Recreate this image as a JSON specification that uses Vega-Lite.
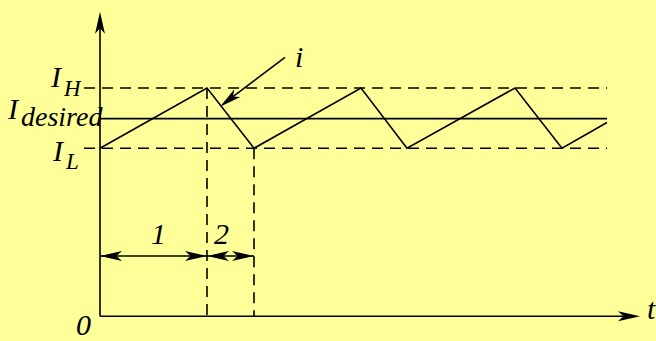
{
  "$schema": "https://vega.github.io/schema/vega-lite/v6.json",
  "width": 656,
  "height": 341,
  "autosize": {"type": "fit", "contains": "padding"},
  "padding": 0,
  "background": "#FFFF99",
  "config": {"view": {"stroke": null}},
  "datasets": {
    "solid": [
      {"t": 0, "v": 0, "t2": 0, "v2": 30.0},
      {"t": 0, "v": 0, "t2": 53.0, "v2": 0},
      {"t": 0, "v": 20, "t2": 50.7, "v2": 20},
      {"t": 0, "v": 6.1, "t2": 15.4, "v2": 6.1},
      {"t": 18.5, "v": 26.2, "t2": 12.6, "v2": 21.7}
    ],
    "dashed": [
      {"t": -1.6, "v": 23.1, "t2": 50.7, "v2": 23.1},
      {"t": -1.6, "v": 17.0, "t2": 50.7, "v2": 17.0},
      {"t": 10.7, "v": 23.1, "t2": 10.7, "v2": 0},
      {"t": 15.4, "v": 17.0, "t2": 15.4, "v2": 0}
    ],
    "current": [
      {"t": 0, "v": 17.0},
      {"t": 10.7, "v": 23.1},
      {"t": 15.4, "v": 17.0},
      {"t": 26.1, "v": 23.1},
      {"t": 30.7, "v": 17.0},
      {"t": 41.5, "v": 23.1},
      {"t": 46.2, "v": 17.0},
      {"t": 50.7, "v": 19.6}
    ],
    "headsUp": [{"t": 0, "v": 30.8}],
    "headsRight": [{"t": 54.0, "v": 0}, {"t": 10.7, "v": 6.1}, {"t": 15.4, "v": 6.1}],
    "headsLeft": [{"t": 0, "v": 6.1}, {"t": 10.7, "v": 6.1}],
    "headsDownLeft": [{"t": 12.0, "v": 21.2}],
    "bigtext": [
      {"t": -4.9, "v": 23.2, "label": "I"},
      {"t": -9.2, "v": 20.0, "label": "I"},
      {"t": -4.7, "v": 15.7, "label": "I"},
      {"t": -2.4, "v": -1.9, "label": "0"},
      {"t": 5.1, "v": 7.3, "label": "1"},
      {"t": 11.4, "v": 7.3, "label": "2"},
      {"t": 19.5, "v": 25.2, "label": "i"},
      {"t": 54.7, "v": -0.3, "label": "t"}
    ],
    "subtext": [
      {"t": -3.6, "v": 22.3, "label": "H"},
      {"t": -3.4, "v": 14.9, "label": "L"}
    ],
    "desiredtext": [
      {"t": -7.9, "v": 19.3, "label": "desired"}
    ]
  },
  "encoding": {
    "x": {"field": "t", "type": "quantitative", "scale": {"domain": [-10, 55.6], "nice": false, "zero": false}, "axis": null},
    "y": {"field": "v", "type": "quantitative", "scale": {"domain": [-2.1, 32], "nice": false, "zero": false}, "axis": null}
  },
  "layer": [
    {
      "data": {"name": "dashed"},
      "mark": {"type": "rule", "color": "black", "strokeWidth": 1.6, "strokeDash": [11, 7]},
      "encoding": {"x2": {"field": "t2"}, "y2": {"field": "v2"}}
    },
    {
      "data": {"name": "solid"},
      "mark": {"type": "rule", "color": "black", "strokeWidth": 1.6},
      "encoding": {"x2": {"field": "t2"}, "y2": {"field": "v2"}}
    },
    {
      "data": {"name": "current"},
      "mark": {"type": "line", "color": "black", "strokeWidth": 1.6},
      "encoding": {"order": {"field": "t", "type": "quantitative"}}
    },
    {
      "data": {"name": "headsUp"},
      "mark": {"type": "point", "filled": true, "color": "black", "opacity": 1, "size": 484, "angle": 0, "shape": "M0,0 L0.45,2 L0,1.5 L-0.45,2 Z", "strokeWidth": 0}
    },
    {
      "data": {"name": "headsRight"},
      "mark": {"type": "point", "filled": true, "color": "black", "opacity": 1, "size": 484, "angle": 90, "shape": "M0,0 L0.45,2 L0,1.5 L-0.45,2 Z", "strokeWidth": 0}
    },
    {
      "data": {"name": "headsLeft"},
      "mark": {"type": "point", "filled": true, "color": "black", "opacity": 1, "size": 484, "angle": 270, "shape": "M0,0 L0.45,2 L0,1.5 L-0.45,2 Z", "strokeWidth": 0}
    },
    {
      "data": {"name": "headsDownLeft"},
      "mark": {"type": "point", "filled": true, "color": "black", "opacity": 1, "size": 484, "angle": 232, "shape": "M0,0 L0.45,2 L0,1.5 L-0.45,2 Z", "strokeWidth": 0}
    },
    {
      "data": {"name": "bigtext"},
      "mark": {"type": "text", "font": "Liberation Serif", "fontStyle": "italic", "fontSize": 30, "align": "left", "baseline": "alphabetic", "color": "black"},
      "encoding": {"text": {"field": "label"}}
    },
    {
      "data": {"name": "subtext"},
      "mark": {"type": "text", "font": "Liberation Serif", "fontStyle": "italic", "fontSize": 23, "align": "left", "baseline": "alphabetic", "color": "black"},
      "encoding": {"text": {"field": "label"}}
    },
    {
      "data": {"name": "desiredtext"},
      "mark": {"type": "text", "font": "Liberation Serif", "fontStyle": "italic", "fontSize": 28, "align": "left", "baseline": "alphabetic", "color": "black"},
      "encoding": {"text": {"field": "label"}}
    }
  ]
}
